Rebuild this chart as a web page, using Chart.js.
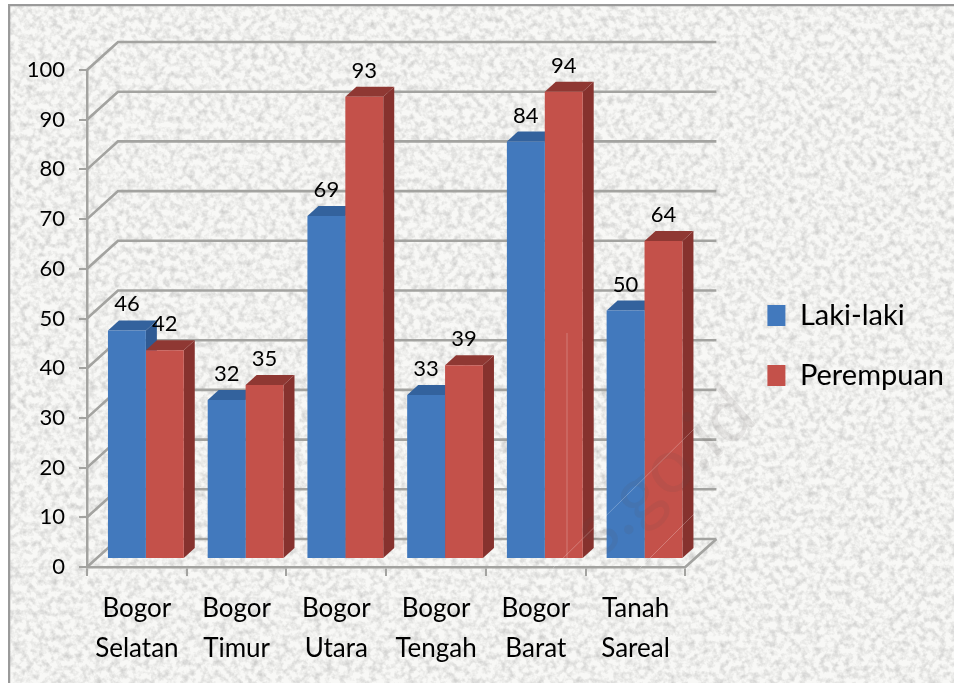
<!DOCTYPE html>
<html><head><meta charset="utf-8">
<style>
html,body{margin:0;padding:0;background:#fff;width:954px;height:683px;overflow:hidden}
#bg{position:absolute;left:8px;top:4px;width:946px;height:679px;}
canvas{position:absolute;left:0;top:0}
</style>
<script src="https://cdn.jsdelivr.net/npm/chart.js@4/dist/chart.umd.js"></script>
</head><body>
<svg id="bg" xmlns="http://www.w3.org/2000/svg" width="946" height="679">
<filter id="paper" x="0" y="0" width="100%" height="100%">
<feTurbulence type="fractalNoise" baseFrequency="0.16" numOctaves="3" seed="7"/>
<feColorMatrix type="matrix" values="0 0 0 0 0  0 0 0 0 0  0 0 0 0 0  1.5 0 0 0 -0.58"/>
</filter>
<rect width="946" height="679" fill="#f8f8f6"/>
<rect width="946" height="679" fill="#000" filter="url(#paper)" opacity="0.22"/>
<line x1="0" y1="1" x2="946" y2="1" stroke="#9a9a9a" stroke-width="2.5"/>
<line x1="1" y1="0" x2="1" y2="679" stroke="#9a9a9a" stroke-width="2.5"/>
</svg>
<canvas id="c" width="954" height="683"></canvas>
<script>
const categories = [['Bogor','Selatan'],['Bogor','Timur'],['Bogor','Utara'],['Bogor','Tengah'],['Bogor','Barat'],['Tanah','Sareal']];
const lakiLaki = [46,32,69,33,84,50];
const perempuan = [42,35,93,39,94,64];
const seriesNames = ['Laki-laki','Perempuan'];
const frontColors = ['#4279bd','#c4514a'];
const topColors = ['#33629d','#8f3833'];
const sideColors = ['#2f5a93','#86322e'];
const FONT = 'Lato,sans-serif';
const WALL = {dx:31, dy:-28};
const BAR_SHIFT = {dx:9, dy:-8};
const DEPTH = {dx:11, dy:-10};

const threeD = {
  id:'threeD',
  beforeDatasetsDraw(chart){
    const {ctx, scales:{x,y}} = chart;
    ctx.save();
    ctx.strokeStyle='#a3a3a0'; ctx.lineWidth=2.6;
    y.ticks.forEach(t=>{
      const py=y.getPixelForValue(t.value);
      ctx.beginPath();
      ctx.moveTo(x.left,py);
      ctx.lineTo(x.left+WALL.dx,py+WALL.dy);
      ctx.lineTo(x.right+WALL.dx,py+WALL.dy);
      ctx.stroke();
    });
    const fy=y.getPixelForValue(0);
    ctx.beginPath();
    ctx.moveTo(x.right,fy);
    ctx.lineTo(x.right+WALL.dx,fy+WALL.dy);
    ctx.stroke();
    ctx.restore();
    ctx.save();
    ctx.translate(BAR_SHIFT.dx,BAR_SHIFT.dy);
    categories.forEach((_,i)=>{
      [0,1].forEach(d=>{
        const b=chart.getDatasetMeta(d).data[i];
        const w=b.width, l=b.x-w/2, r=b.x+w/2, t=b.y, bt=b.base;
        ctx.fillStyle=sideColors[d];
        ctx.beginPath();
        ctx.moveTo(r,t);ctx.lineTo(r+DEPTH.dx,t+DEPTH.dy);ctx.lineTo(r+DEPTH.dx,bt+DEPTH.dy);ctx.lineTo(r,bt);
        ctx.closePath();ctx.fill();
        ctx.fillStyle=topColors[d];
        ctx.beginPath();
        ctx.moveTo(l,t);ctx.lineTo(l+DEPTH.dx,t+DEPTH.dy);ctx.lineTo(r+DEPTH.dx,t+DEPTH.dy);ctx.lineTo(r,t);
        ctx.closePath();ctx.fill();
      });
    });
  },
  afterDatasetsDraw(chart){
    const {ctx}=chart;
    ctx.restore();
    ctx.save();
    ctx.fillStyle='#000';
    ctx.font='22px '+FONT;
    ctx.textAlign='center';ctx.textBaseline='middle';
    chart.data.datasets.forEach((ds,d)=>{
      chart.getDatasetMeta(d).data.forEach((b,i)=>{
        ctx.fillText(String(ds.data[i]),b.x+BAR_SHIFT.dx,b.y+BAR_SHIFT.dy-26);
      });
    });
    ctx.restore();
  },
  afterDraw(chart){
    const {ctx}=chart;
    ctx.save();
    ctx.strokeStyle='rgba(255,255,255,0.25)';ctx.lineWidth=1;
    [[567,333,567,562],[695,428,553,568],[695,513,640,568]].forEach(l=>{
      ctx.beginPath();ctx.moveTo(l[0],l[1]);ctx.lineTo(l[2],l[3]);ctx.stroke();
    });
    ctx.translate(600,560);ctx.rotate(-41*Math.PI/180);
    ctx.fillStyle='rgba(90,80,80,0.10)';
    ctx.font='76px '+FONT;
    ctx.textBaseline='alphabetic';ctx.textAlign='left';
    ctx.fillText('s.go.id',0,0);
    ctx.restore();
  }
};

new Chart(document.getElementById('c'),{
  type:'bar',
  data:{labels:categories,datasets:[
    {label:seriesNames[0],data:lakiLaki,backgroundColor:frontColors[0],clip:false,categoryPercentage:0.76,barPercentage:1},
    {label:seriesNames[1],data:perempuan,backgroundColor:frontColors[1],clip:false,categoryPercentage:0.76,barPercentage:1}
  ]},
  options:{
    responsive:false,animation:false,devicePixelRatio:1,
    layout:{padding:{left:0,right:0,top:8,bottom:0}},
    plugins:{
      tooltip:{enabled:false},
      legend:{position:'right',maxWidth:300,
        labels:{boxWidth:18,boxHeight:21,padding:31,color:'#000',font:{family:FONT,size:29}}}
    },
    scales:{
      x:{position:'bottom',
        grid:{drawOnChartArea:false,color:'#a3a3a0',lineWidth:2,tickLength:9,tickColor:'#a3a3a0'},
        border:{display:true,color:'#a3a3a0',width:2.5},
        ticks:{color:'#000',font:{family:FONT,size:26,lineHeight:40/26},padding:13,maxRotation:0,autoSkip:false},
        afterFit(s){s.height=116;}},
      y:{min:0,max:100,position:'left',
        grid:{drawOnChartArea:false,color:'#a3a3a0',lineWidth:2,tickLength:8,tickColor:'#a3a3a0'},
        border:{display:true,color:'#a3a3a0',width:2.5},
        ticks:{stepSize:10,color:'#000',font:{family:FONT,size:22},padding:14},
        afterFit(s){s.width=87;}},
      topSpacer:{position:'top',type:'linear',display:true,grid:{display:false},border:{display:false},ticks:{display:false},afterFit(s){s.height=62;}},
      rightSpacer:{position:'right',type:'linear',display:true,grid:{display:false},border:{display:false},ticks:{display:false},afterFit(s){s.width=51;}}
    }
  },
  plugins:[threeD]
});
</script>
</body></html>
